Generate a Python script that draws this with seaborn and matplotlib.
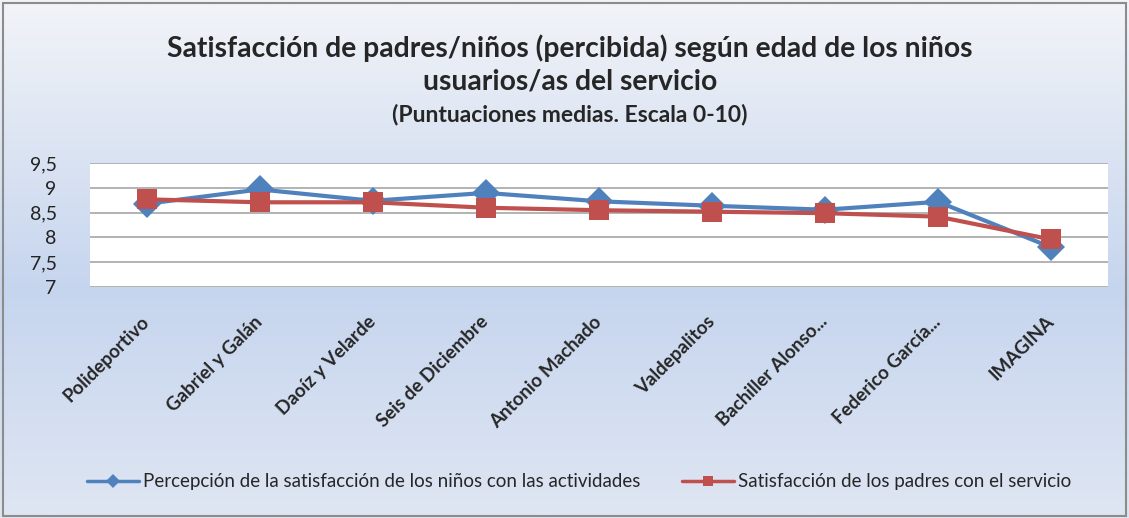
import numpy as np
import pandas as pd
import seaborn as sns
import matplotlib.pyplot as plt

centros = ["Polideportivo", "Gabriel y Galán", "Daoíz y Velarde", "Seis de Diciembre",
           "Antonio Machado", "Valdepalitos", "Bachiller Alonso...", "Federico García...", "IMAGINA"]
ninos = [8.68, 8.97, 8.74, 8.90, 8.73, 8.64, 8.56, 8.72, 7.80]
padres = [8.77, 8.71, 8.71, 8.60, 8.55, 8.52, 8.49, 8.42, 7.96]
serie_ninos = "Percepción de la satisfacción de los niños con las actividades"
serie_padres = "Satisfacción de los padres con el servicio"

df = pd.DataFrame({
    "centro": centros * 2,
    "valor": ninos + padres,
    "serie": [serie_ninos] * len(centros) + [serie_padres] * len(centros),
})

sns.set_style("white")
plt.rcParams["font.family"] = ["Lato", "DejaVu Sans"]

fig = plt.figure(figsize=(11.29, 5.18), dpi=100)

# gradient background
bg = fig.add_axes([0, 0, 1, 1], zorder=-10)
stops_y = [0.0, 0.56, 1.0]
top = np.array([0xf2, 0xf4, 0xf8]) / 255
mid = np.array([0xc6, 0xd5, 0xee]) / 255
bot = np.array([0xdf, 0xe6, 0xf3]) / 255
yy = np.linspace(0, 1, 300)
grad = np.array([np.interp(yy, stops_y, [top[i], mid[i], bot[i]]) for i in range(3)]).T
bg.imshow(grad[:, None, :], aspect="auto", extent=[0, 1, 0, 1], origin="upper")
bg.set_axis_off()
fig.patches.append(plt.Rectangle((0.003, 0.004), 0.994, 0.99, transform=fig.transFigure,
                                 fill=False, edgecolor="#8c8c8c", linewidth=1.5))

ax = fig.add_axes([0.0797, 0.446, 0.9015, 0.239])
ax.set_facecolor("white")
sns.lineplot(data=df, x="centro", y="valor", hue="serie", style="serie",
             palette=["#4f81bd", "#c0504d"], markers=["D", "s"], dashes=False,
             markersize=14, linewidth=3, markeredgewidth=0, sort=False, ax=ax)

ax.set_ylim(7, 9.5)
ax.set_xlim(-0.5, len(centros) - 0.5)
ax.set_yticks([7, 7.5, 8, 8.5, 9, 9.5])
ax.set_yticklabels(["7", "7,5", "8", "8,5", "9", "9,5"], fontsize=14, color="#222222")
ax.tick_params(axis="y", pad=24, length=0)
ax.yaxis.grid(True, color="#a6a6a6", linewidth=1.2)
ax.set_axisbelow(True)
for s in ax.spines.values():
    s.set_visible(False)
ax.set_xlabel("")
ax.set_ylabel("")
ax.set_xticks(range(len(centros)))
ax.set_xticklabels(centros, rotation=45, ha="right", va="center", rotation_mode="anchor",
                   fontsize=13.5, fontweight="bold")
ax.tick_params(axis="x", pad=23, length=0)

fig.text(0.505, 0.907, "Satisfacción de padres/niños (percibida) según edad de los niños",
         ha="center", va="center", fontsize=20.3, fontweight="bold")
fig.text(0.505, 0.842, "usuarios/as del servicio", ha="center", va="center",
         fontsize=20.3, fontweight="bold")
fig.text(0.505, 0.778, "(Puntuaciones medias. Escala 0-10)", ha="center", va="center",
         fontsize=16.5, fontweight="bold")

h, l = ax.get_legend_handles_labels()
ax.get_legend().remove()
for hh in h:
    hh.set_markersize(7)
    hh.set_linewidth(2.5)
fig.legend(h, l, loc="center", bbox_to_anchor=(0.513, 0.07), ncol=2, frameon=False,
           fontsize=13.5, handlelength=2.8, handletextpad=0.2, columnspacing=2.2)

fig.savefig("out.png", dpi=100)
